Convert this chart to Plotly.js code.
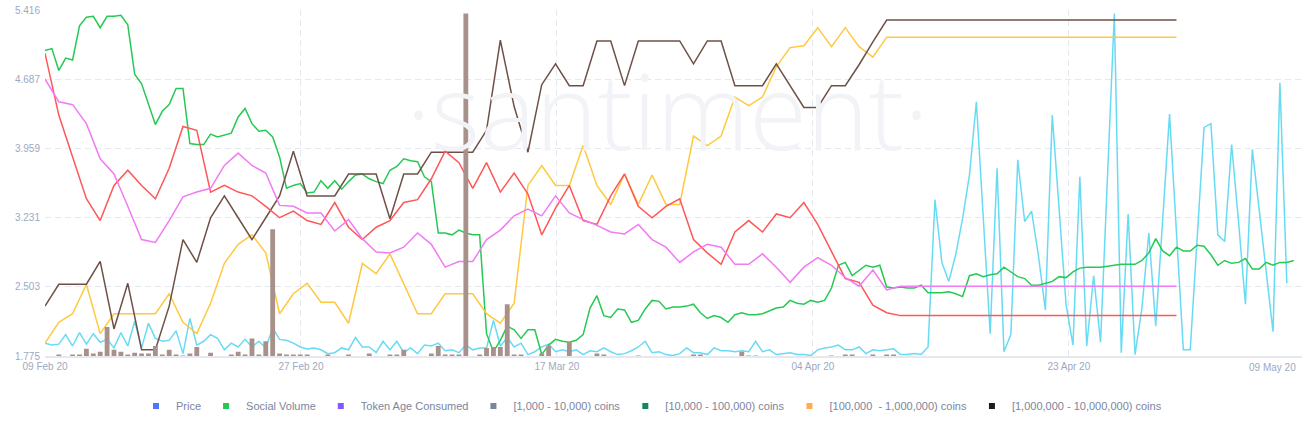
<!DOCTYPE html>
<html><head><meta charset="utf-8">
<script src="https://cdn.plot.ly/plotly-3.0.1.min.js"></script>
<style>html,body{margin:0;padding:0;background:#fff;}#chart{width:1303px;height:430px;}</style>
</head><body><div id="chart"></div>
<script>
// ---- time axis (samples every 12 hours from 09 Feb 2020) ----
const startDate = Date.UTC(2020, 1, 9);
const stepMs = 12 * 3600 * 1000;
const tickLabels = ['09 Feb 20', '27 Feb 20', '17 Mar 20', '04 Apr 20', '23 Apr 20'];
const tickSteps = [0, 37.1, 74.2, 111.3, 148.4];
const endLabel = '09 May 20';
const endStep = 182.2;
const yTicks = [1.775, 2.503, 3.231, 3.959, 4.687, 5.416];

// ---- 12-hourly series ----
const socialVolume = [4.99,5.01,4.78,4.91,4.89,5.25,5.34,5.35,5.23,5.35,
 5.35,5.36,5.26,4.74,4.64,4.42,4.21,4.35,4.42,4.59,
 4.59,4.01,4.00,4.00,4.11,4.08,4.10,4.12,4.29,4.38,
 4.22,4.14,4.15,4.08,3.87,3.54,3.57,3.59,3.49,3.50,
 3.62,3.54,3.62,3.53,3.61,3.68,3.69,3.64,3.61,3.59,
 3.73,3.77,3.85,3.83,3.82,3.66,3.61,3.07,3.07,3.05,
 3.10,3.07,3.05,3.05,2.01,1.82,1.94,2.09,2.05,1.96,
 2.05,2.05,1.79,1.89,1.95,1.93,1.92,1.94,2.00,2.28,
 2.41,2.20,2.18,2.27,2.26,2.13,2.15,2.27,2.36,2.35,
 2.27,2.29,2.29,2.30,2.32,2.23,2.17,2.20,2.18,2.13,
 2.21,2.23,2.21,2.21,2.22,2.25,2.28,2.29,2.36,2.33,
 2.32,2.36,2.34,2.36,2.49,2.73,2.76,2.62,2.68,2.73,
 2.71,2.73,2.50,2.49,2.50,2.49,2.49,2.52,2.44,2.44,
 2.44,2.45,2.43,2.40,2.62,2.64,2.61,2.63,2.64,2.71,
 2.66,2.61,2.59,2.52,2.52,2.54,2.56,2.61,2.60,2.66,
 2.70,2.71,2.71,2.71,2.72,2.73,2.74,2.74,2.74,2.78,
 2.86,3.01,2.88,2.83,2.92,2.88,2.88,2.94,2.93,2.84,
 2.73,2.78,2.75,2.76,2.80,2.69,2.69,2.76,2.73,2.76,
 2.76,2.78];

const cyanSeries = [1.91,1.89,1.90,2.00,1.88,2.02,1.90,2.01,1.92,1.95,
 1.86,2.02,1.88,2.14,1.86,2.12,1.96,1.93,1.94,2.04,
 1.80,2.17,1.89,1.93,2.00,1.96,1.84,1.91,1.87,1.95,
 1.87,1.93,1.86,2.07,1.95,1.94,1.91,1.87,
 1.85,1.86,1.84,1.80,1.81,1.86,1.84,1.97,1.87,1.87,
 1.81,1.93,1.84,1.93,1.81,1.86,1.80,1.89,1.88,1.91,
 1.83,1.84,1.81,1.89,1.84,1.86,1.86,2.15,1.88,1.97,
 1.87,1.91,1.79,1.82,1.87,1.90,1.82,
 1.84,1.82,1.84,1.79,1.83,1.82,1.86,1.82,1.79,1.80,
 1.83,1.87,1.93,1.81,1.82,1.79,1.78,1.80,1.86,1.81,
 1.81,1.79,1.86,1.83,1.83,1.82,1.83,1.82,1.93,1.82,
 1.84,1.79,1.80,1.81,1.79,1.79,1.78,
 1.84,1.86,1.87,1.89,1.84,1.84,1.87,1.80,1.84,1.83,
 1.84,1.85,1.79,1.79,1.80,1.79,1.87,3.42,2.76,2.56,
 2.84,3.22,3.68,4.45,3.23,2.01,3.75,1.82,2.00,3.84,
 3.19,3.30,2.83,2.26,4.31,3.31,2.32,1.89,3.66,1.88,
 2.62,1.92,3.73,5.38,1.81,3.27,1.79,2.28,3.07,2.09,
 3.20,4.32,3.08,1.84,1.84,3.01,4.18,4.22,3.05,2.98,
 4.00,3.19,2.32,3.95,3.33,2.66,2.03,4.65,2.54];

// ---- daily series (one value every 2 steps) ----
const redSeries = [4.96,4.31,3.87,3.43,3.20,3.57,3.73,3.57,3.43,3.75,
 4.19,4.15,3.50,3.57,3.50,3.46,3.35,3.23,3.30,3.20,
 3.16,3.39,3.13,3.00,3.13,3.20,3.39,3.42,3.64,3.93,
 3.81,3.54,3.81,3.50,3.70,3.48,3.05,3.33,3.57,3.20,
 3.16,3.46,3.69,3.35,3.23,3.35,3.43,3.00,2.86,2.74,
 3.08,3.20,3.08,3.27,3.23,3.39,3.16,2.88,2.59,2.55,
 2.31,2.23,2.20,2.20,2.20,2.20,2.20,2.20,2.20,2.20,
 2.20,2.20,2.20,2.20,2.20,2.20,2.20,2.20,2.20,2.20,
 2.20,2.20,2.20];
const pinkSeries = [4.69,4.45,4.42,4.22,3.85,3.69,3.35,3.00,2.97,3.20,
 3.45,3.50,3.54,3.78,3.91,3.78,3.70,3.36,3.35,3.28,
 3.28,3.09,3.21,3.01,2.87,2.86,2.92,3.07,2.95,2.71,
 2.77,2.77,3.00,3.10,3.25,3.32,3.25,3.46,3.28,3.21,
 3.15,3.08,3.06,3.16,3.00,2.92,2.76,2.87,2.95,2.92,
 2.74,2.74,2.85,2.71,2.55,2.71,2.81,2.73,2.60,2.51,
 2.68,2.47,2.51,2.51,2.51,2.51,2.51,2.51,2.51,2.51,
 2.51,2.51,2.51,2.51,2.51,2.51,2.51,2.51,2.51,2.51,
 2.51,2.51,2.51];
const yellowSeries = [1.91,2.13,2.22,2.53,2.01,2.22,2.22,2.22,2.22,2.43,
 2.13,2.01,2.33,2.75,2.95,3.05,2.86,2.22,2.43,2.54,
 2.34,2.34,2.12,2.75,2.64,2.85,2.54,2.22,2.22,2.43,
 2.43,2.43,2.22,2.12,2.33,3.57,3.78,3.57,3.57,3.99,
 3.57,3.37,3.69,3.37,3.68,3.37,3.37,4.09,3.99,4.09,
 4.50,4.41,4.50,4.82,5.02,5.04,5.23,5.03,5.23,5.03,
 4.92,5.13,5.13,5.13,5.13,5.13,5.13,5.13,5.13,5.13,
 5.13,5.13,5.13,5.13,5.13,5.13,5.13,5.13,5.13,5.13,
 5.13,5.13,5.13];
const brownSeries = [2.30,2.53,2.53,2.53,2.77,2.06,2.54,1.84,1.84,2.30,
 3.00,2.76,3.23,3.46,3.23,3.00,3.23,3.46,3.93,3.46,
 3.46,3.46,3.69,3.69,3.69,3.22,3.69,3.69,3.92,3.92,
 3.92,3.92,4.15,5.10,4.40,3.92,4.63,4.85,4.62,4.62,
 5.09,5.09,4.62,5.09,5.09,5.09,5.09,4.85,5.09,5.09,
 4.62,4.62,4.62,4.85,4.62,4.39,4.39,4.62,4.62,4.84,
 5.08,5.31,5.31,5.31,5.31,5.31,5.31,5.31,5.31,5.31,
 5.31,5.31,5.31,5.31,5.31,5.31,5.31,5.31,5.31,5.31,
 5.31,5.31,5.31];

// ---- bars (12h step index, value) ----
const barSteps = [2,4,5,6,7,8,9,10,11,12,13,14,15,16,17,18,19,20,21,22,24,27,28,29,30,31,32,33,34,35,36,37,38,41,44,47,50,51,52,56,57,58,59,60,61,63,64,65,66,67,68,69,72,73,76,80,81,86,94,95,101,102,103,114,116,117,120,122,123];
const barValues = [1.79,1.79,1.79,1.85,1.80,1.82,2.08,1.84,1.82,1.79,1.81,1.80,1.80,1.88,1.79,1.84,1.79,1.78,1.80,1.87,1.81,1.79,1.82,1.79,1.96,1.79,1.93,3.11,1.80,1.79,1.79,1.79,1.79,1.79,1.79,1.80,1.79,1.79,1.84,1.80,1.88,1.79,1.79,1.79,5.38,1.79,1.86,1.87,1.87,2.32,1.79,1.79,1.80,1.88,1.92,1.80,1.79,1.78,1.79,1.79,1.82,1.78,1.78,1.78,1.79,1.79,1.79,1.79,1.79];

// ---- legend ----
const legendNames = ['Price', 'Social Volume', 'Token Age Consumed', '[1,000 - 10,000) coins', '[10,000 - 100,000) coins', '[100,000  - 1,000,000) coins', '[1,000,000 - 10,000,000) coins'];
const legendColors = ['#5275ff', '#26c953', '#8358ff', '#7a859e', '#14875b', '#ffad4d', '#1b1d23'];

function at(step) {
  return new Date(startDate + step * stepMs).toISOString().slice(0, 19).replace('T', ' ');
}
const halfX = socialVolume.map((_, i) => at(i));
const cyanX = cyanSeries.map((_, i) => at(i));
const dayX = redSeries.map((_, i) => at(2 * i));
const barX = barSteps.map(s => at(s));

function line(x, y, color, name) {
  return {type: 'scatter', mode: 'lines', x: x, y: y, name: name, showlegend: false,
    line: {color: color, width: 1.5}, hoverinfo: 'skip'};
}

const traces = [
  line(cyanX, cyanSeries, '#68dbf4', 'series A'),
  line(halfX, socialVolume, '#26c953', 'Social Volume'),
  line(dayX, yellowSeries, '#ffc93f', '[100,000 - 1,000,000) coins'),
  line(dayX, brownSeries, '#6e5046', '[1,000,000 - 10,000,000) coins'),
  line(dayX, redSeries, '#ff5757', 'series B'),
  line(dayX, pinkSeries, '#f27af5', 'series C'),
  {type: 'bar', x: barX, y: barValues, yaxis: 'y2', showlegend: false, hoverinfo: 'skip',
   marker: {color: '#a8918a', line: {width: 0}}}
];
legendNames.forEach((n, k) => traces.push({
  type: 'scatter', mode: 'markers', x: [null], y: [null], name: n,
  marker: {symbol: 'square', size: 6, color: legendColors[k]}
}));

const tickFont = {family: 'Liberation Sans, Arial, sans-serif', size: 10, color: '#9ea8c2'};
const yRange = [yTicks[0], yTicks[yTicks.length - 1]];

const layout = {
  width: 1303, height: 430,
  margin: {l: 45, r: 1, t: 10, b: 74},
  paper_bgcolor: '#fff', plot_bgcolor: '#fff',
  bargap: 0.3,
  showlegend: true,
  xaxis: {
    type: 'date', range: [at(0), at(endStep)],
    tickvals: tickSteps.map(at).concat([at(endStep)]),
    ticktext: tickLabels.concat(['']),
    showgrid: true, gridcolor: '#e6e8f0', griddash: '6px,4px', gridwidth: 1,
    showline: true, linecolor: '#e6e8ee', linewidth: 1.5,
    zeroline: false, ticks: '', tickfont: tickFont
  },
  yaxis: {
    range: yRange, tickvals: yTicks, ticktext: yTicks.map(v => v.toFixed(3)),
    showgrid: true, gridcolor: '#e6e8f0', griddash: '6px,4px', gridwidth: 1,
    zeroline: false, showline: false, ticks: '', tickfont: tickFont, ticklabelstandoff: 4
  },
  yaxis2: {overlaying: 'y', range: yRange, visible: false, showgrid: false},
  legend: {
    orientation: 'h', xref: 'container', x: 0.5, xanchor: 'center',
    yref: 'container', y: 0.056, yanchor: 'middle',
    font: {family: 'Liberation Sans, Arial, sans-serif', size: 11, color: '#7b859d'},
    itemclick: false, itemdoubleclick: false
  },
  annotations: [
    {xref: 'paper', yref: 'paper', x: 0.495, y: 0.712, xanchor: 'center', yanchor: 'middle',
     text: '·santiment·', showarrow: false,
     font: {family: 'Open Sans, sans-serif', size: 105, weight: 300, color: '#f2f3f7'}},
    {xref: 'paper', yref: 'paper', x: 1, y: 0, xanchor: 'right', yanchor: 'top', xshift: -4, yshift: -4,
     text: endLabel, showarrow: false, font: tickFont}
  ]
};

Plotly.newPlot('chart', traces, layout, {displayModeBar: false, staticPlot: true});
</script>
</body></html>
